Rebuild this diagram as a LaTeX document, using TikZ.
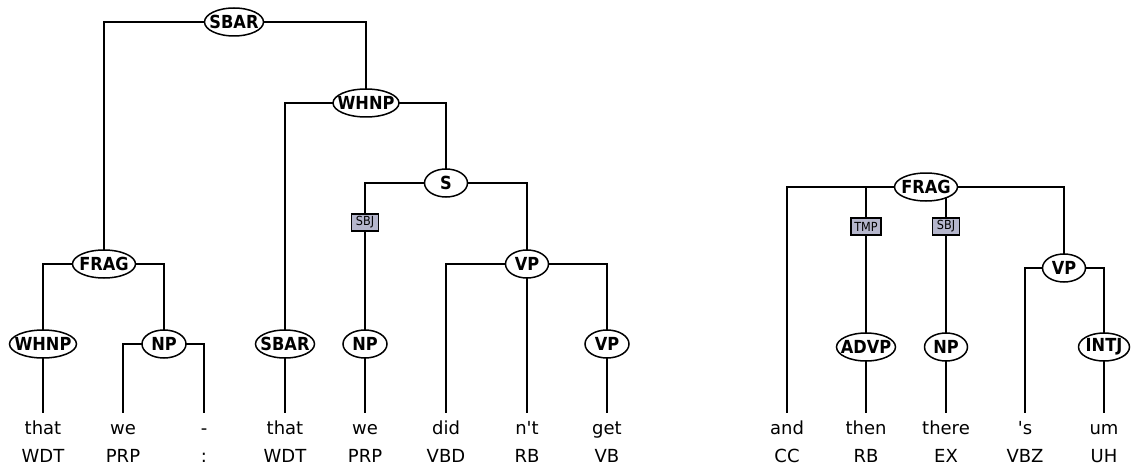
\documentclass[tikz,border=0pt]{standalone}
\usepackage{fontspec}
\setmainfont{DejaVu Sans}
\newfontfamily\labfont[FakeStretch=0.9]{DejaVu Sans}
\usetikzlibrary{shapes.geometric,backgrounds}
\definecolor{boxfill}{HTML}{B5B6CC}
\newcommand\lbl[1]{\makebox[0pt]{#1}}
\newcommand\apos{\textquotesingle}
\tikzset{
  cat/.style={ellipse, draw, fill=white, line width=1.5pt, inner sep=0pt,
              minimum height=28pt, font=\labfont\bfseries\fontsize{18}{21}\selectfont},
  fn/.style={rectangle, draw, fill=boxfill, line width=1.1pt, inner xsep=2pt, inner ysep=0pt,
             minimum width=27pt, minimum height=17pt, font=\labfont\fontsize{12.5}{14}\selectfont},
  word/.style={anchor=base, inner sep=0pt, font=\fontsize{18}{21}\selectfont},
  edge/.style={line width=1.5pt, line cap=rect}
}
\begin{document}
\begin{tikzpicture}[x=1pt, y=-1pt]
\useasboundingbox (0,0) rectangle (1132,468);

% ---------- words and POS tags ----------
\foreach \n/\x/\w/\p in {
  a/43/that/WDT, b/123/we/PRP, c/204/-/:, d/285/that/WDT, e/365/we/PRP,
  f/446/did/VBD, g/527/n\apos t/RB, h/607/get/VB,
  i/787/and/CC, j/866/then/RB, k/946/there/EX, l/1025/\apos s/VBZ, m/1104/um/UH} {
  \node[word] (w\n) at (\x,434) {\w};
  \node[word] (p\n) at (\x,462) {\p};
  \coordinate (t\n) at (\x,412);
}

% ---------- left tree ----------
\node[cat, minimum width=59pt] (sbarA) at (234,22) {\lbl{SBAR}};
\node[cat, minimum width=66pt] (whnpA) at (366,103) {\lbl{WHNP}};
\node[cat, minimum width=43pt] (sA) at (446,183) {\lbl{S}};
\node[cat, minimum width=63pt] (fragA) at (104,264) {\lbl{FRAG}};
\node[cat, minimum width=43pt] (vpA) at (527,264) {\lbl{VP}};
\node[cat, minimum width=67pt] (whnpB) at (43,344) {\lbl{WHNP}};
\node[cat, minimum width=44pt] (npA) at (164,344) {\lbl{NP}};
\node[cat, minimum width=59pt] (sbarB) at (285,344) {\lbl{SBAR}};
\node[cat, minimum width=44pt] (npB) at (365,344) {\lbl{NP}};
\node[cat, minimum width=44pt] (vpB) at (607,344) {\lbl{VP}};
\node[fn] (sbjA) at (365,222.5) {SBJ};

% ---------- right tree ----------
\node[cat, minimum width=63pt] (fragB) at (926,187) {\lbl{FRAG}};
\node[cat, minimum width=43pt] (vpC) at (1064,268) {\lbl{VP}};
\node[cat, minimum width=59pt] (advp) at (866,347) {\lbl{ADVP}};
\node[cat, minimum width=43pt] (npC) at (946,347) {\lbl{NP}};
\node[cat, minimum width=51pt] (intj) at (1104,347) {\lbl{INTJ}};
\node[fn, minimum width=30pt] (tmp) at (866,226.5) {TMP};
\node[fn] (sbjB) at (946,226.5) {SBJ};

% ---------- connectors ----------
\begin{scope}[on background layer]
  \draw[edge] (fragA) |- (sbarA) -| (whnpA);
  \draw[edge] (sbarB) |- (whnpA) -| (sA);
  \draw[edge] (npB) |- (sA) -| (vpA);
  \draw[edge] (tf) |- (vpA) -| (vpB);
  \draw[edge] (vpA) -- (tg);
  \draw[edge] (whnpB) |- (fragA) -| (npA);
  \draw[edge] (tb) |- (npA) -| (tc);
  \draw[edge] (whnpB) -- (ta);
  \draw[edge] (sbarB) -- (td);
  \draw[edge] (npB) -- (te);
  \draw[edge] (vpB) -- (th);

  \draw[edge] (ti) |- (fragB) -| (vpC);
  \draw[edge] (advp) -- (advp |- fragB);
  \draw[edge] (npC) -- (npC |- fragB);
  \draw[edge] (tl) |- (vpC) -| (intj);
  \draw[edge] (advp) -- (tj);
  \draw[edge] (npC) -- (tk);
  \draw[edge] (intj) -- (tm);
\end{scope}
\end{tikzpicture}
\end{document}
